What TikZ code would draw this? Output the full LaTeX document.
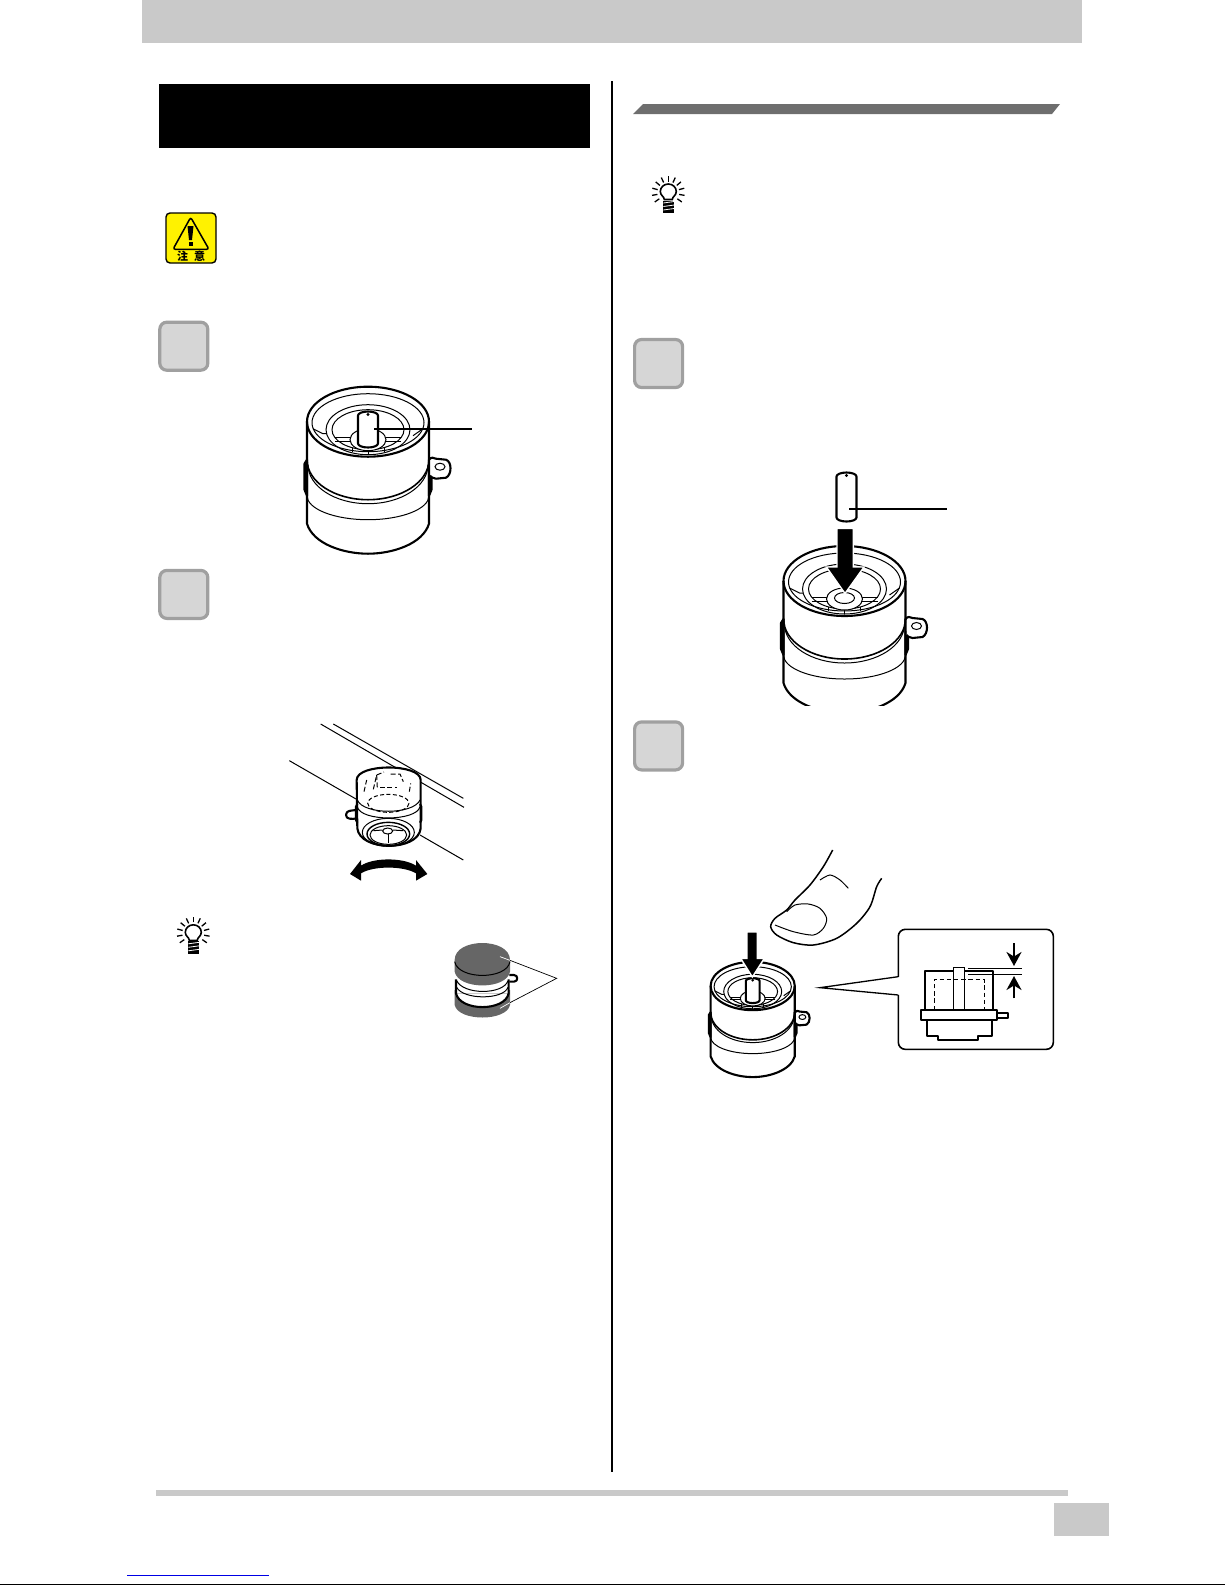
\documentclass[tikz,border=0pt]{standalone}
\usepackage{fontspec}
\newfontfamily\cjk{Noto Sans CJK JP}
\usetikzlibrary{arrows.meta}
\definecolor{bargray}{HTML}{C9C9C9}
\definecolor{stepgray}{HTML}{A0A0A0}
\definecolor{steplight}{HTML}{D6D6D6}
\definecolor{headgray}{HTML}{6E6E6E}
\definecolor{darkpart}{HTML}{666666}
\definecolor{warnyellow}{HTML}{FFF200}
\tikzset{
  stepbox/.style={draw=stepgray,fill=steplight,line width=1.6pt,minimum size=24pt,inner sep=0pt,rounded corners=3.5pt},
  heavy/.style={line width=1.05pt,line join=round},
  fine/.style={line width=.5pt},
  leader/.style={line width=.9pt},
  hair/.style={line width=.35pt},
}
\newcommand{\drumpart}[3]{
  \begin{scope}[shift={(#1,#2)},scale=#3]
    \fill[white] (-61,0) -- (-61,102) arc[start angle=180,end angle=0,x radius=61,y radius=30] -- (61,0) arc[start angle=0,end angle=-180,x radius=61,y radius=35] -- cycle;
    \draw[heavy,fill=white] (-61,38) -- (-63.5,42) -- (-63.5,68) -- (-61,74) -- cycle;
    \draw[heavy,fill=white] (61,38) -- (63.5,42) -- (63.5,68) -- (61,74) -- cycle;
    \draw[heavy,fill=white] (61,38) .. controls (63,35) and (66,36) .. (68,37) -- (78,38) .. controls (84,40) and (84,53) .. (78,56) -- (68,57) .. controls (65,57) and (63,55) .. (62,54);
    \draw[fine] (72,45) ellipse (5 and 3.5);
    \draw[heavy] (0,0) ellipse (61 and 35);
    \draw[heavy] (-61,0) -- (-61,102) .. controls (-55,122) and (-25,132) .. (0,132) .. controls (25,132) and (55,122) .. (61,102) -- (61,0);
    \draw[line width=.8pt] (-61,38) arc[start angle=180,end angle=0,x radius=61,y radius=40];
    \draw[fine] (-60,43) arc[start angle=180,end angle=0,x radius=60,y radius=39];
    \draw[fine] (-61,74) arc[start angle=180,end angle=0,x radius=61,y radius=24];
    \draw[fine] (0,1) ellipse (56 and 29);
    \draw[fine] (0,8) ellipse (42 and 25);
    \draw[fine] (0,8) ellipse (36 and 20);
    \draw[fine] (-55,7) -- (-45,12) -- (-41,12);
    \draw[fine] (55,7) -- (45,14);
    \draw[fine] (-33,16) -- (-12,16);
    \draw[fine] (-33,20) -- (-12,20);
    \draw[fine] (33,16) -- (12,16);
    \draw[fine] (33,20) -- (12,20);
    \draw[fine] (-16,26) -- (-16,30);
    \draw[fine] (16,26) -- (16,30);
    \draw[fine] (0,29) -- (0,33);
    \draw[fine,fill=white] (0,18) ellipse (18 and 11);
    \draw[fine,fill=white] (0,17) ellipse (10 and 5.5);
  \end{scope}
}
\newcommand{\pinpart}[4]{
  \begin{scope}[shift={(#1,#2)},scale=#3]
    \draw[heavy,fill=white] (-10,0) -- (-10,#4) arc[start angle=180,end angle=0,x radius=10,y radius=4] -- (10,0) arc[start angle=0,end angle=-180,x radius=10,y radius=4] -- cycle;
    \draw[fine] (0,-1) circle (1);
  \end{scope}
}
\newcommand{\bulbicon}[2]{
  \begin{scope}[shift={(#1,#2)}]
    \foreach \a in {-215,-190,...,35} {
      \draw[line width=.65pt] (\a:11) -- (\a:16.5);
    }
    \draw[line width=.8pt] (-4,7) .. controls (-4,4) and (-8,3) .. (-8,-1) arc[start angle=180,end angle=360,x radius=8,y radius=7.5] .. controls (8,3) and (4,4) .. (4,7) -- cycle;
    \fill[black] (-5,8) rectangle (6,20.5);
    \foreach \b in {10.5,14,17.5} {
      \draw[white,line width=.4pt] (-5,\b) -- (6,\b-1.5);
    }
  \end{scope}
}
\begin{document}
\begin{tikzpicture}[x=.5pt,y=-.5pt]
  \useasboundingbox (0,0) rectangle (1225,1585);
  \fill[bargray] (142,0) rectangle (1082,43);
  \fill[black] (159,84) rectangle (590,148);
  \fill[black] (611,81) rectangle (613,1472);
  \fill[bargray] (156,1490) rectangle (1068,1496);
  \fill[bargray] (1054,1503) rectangle (1109,1536);
  \fill[blue!90!black] (127,1574.5) rectangle (269,1575.5);
  \fill[black] (0,1583.6) rectangle (1225,1585);
  \fill[headgray] (643,104) -- (1060,104) -- (1052,114) -- (633,114) -- cycle;

  \node (stepa) [stepbox] at (183.8,346.2) {};
  \node (stepb) [stepbox] at (183.8,594.4) {};
  \node (stepc) [stepbox] at (658.6,363.5) {};
  \node (stepd) [stepbox] at (658.6,745.9) {};

  \draw[line width=.7pt,fill=warnyellow,rounded corners=2pt] (166,213) rectangle (216,263);
  \draw[line width=.75pt,rounded corners=1.2pt] (190.7,217.3) -- (173,249.3) -- (209,249.3) -- cycle;
  \fill[black] (187.5,226) -- (193.5,226) -- (192,240) -- (189,240) -- cycle;
  \fill[black] (188.5,241.5) rectangle (192.5,245.5);
  \node (warnleft) [inner sep=0pt,font=\cjk\bfseries\fontsize{5.5}{6}\selectfont] at (182.5,256) {注};
  \node (warnright) [inner sep=0pt,font=\cjk\bfseries\fontsize{5.5}{6}\selectfont] at (199.5,256) {意};

  \drumpart{368}{421.7}{1}
  \pinpart{368}{415.5}{1}{28}
  \coordinate (pinfirst) at (374,429.3);
  \coordinate (labelfirst) at (472,429.3);
  \draw[leader] (pinfirst) -- (labelfirst);

  \drumpart{844.5}{581}{1}
  \fill[white] (780,706) rectangle (910,716);
  \pinpart{846.5}{476.5}{1}{41}
  \coordinate (pinloose) at (849,509);
  \coordinate (labelloose) at (947,509);
  \draw[leader] (pinloose) -- (labelloose);
  \draw[white,line width=.7pt,fill=black] (837,528.5) -- (853.4,528.5) -- (853.4,567) -- (864,567) -- (845,593.5) -- (826.4,567) -- (837,567) -- cycle;

  \begin{scope}[shift={(160,700)},scale=1/3]
    \draw[fine] (388,182) -- (588,297);
    \draw[fine] (482,72) -- (912,322);
    \draw[fine] (780,405) -- (910,480);
    \draw[heavy,fill=white] (590,330) .. controls (575,332) and (558,330) .. (558,345) .. controls (558,358) and (575,358) .. (592,355);
    \draw[heavy,fill=white] (590,240) .. controls (590,190) and (782,190) .. (782,240) -- (782,385) .. controls (775,455) and (600,455) .. (592,385) -- cycle;
    \draw[fine] (520,72) -- (910,295);
    \draw[fine] (592,300) .. controls (610,345) and (760,345) .. (780,300);
    \draw[fine] (592,320) .. controls (600,365) and (770,365) .. (780,320);
    \draw[heavy] (592,312) -- (588,320) -- (588,360) -- (592,368);
    \draw[heavy] (780,312) -- (784,320) -- (784,360) -- (780,368);
    \draw[fine] (685,397) ellipse (78 and 42);
    \draw[line width=.7pt] (685,402) ellipse (64 and 35);
    \draw[fine] (685,405) ellipse (55 and 28);
    \draw[fine] (683,393) ellipse (15 and 9);
    \draw[fine] (640,392) -- (668,390);
    \draw[fine] (730,392) -- (698,390);
    \draw[line width=.7pt] (685,402) -- (685,428);
    \draw[fine,dashed,dash pattern=on 2pt off 1.2pt] (685,310) ellipse (62 and 27);
    \draw[fine,dashed,dash pattern=on 2.5pt off 1.2pt] (640,268) -- (650,225) -- (672,216);
    \draw[fine,dashed,dash pattern=on 2.5pt off 1.2pt] (692,222) -- (720,222) -- (730,245);
    \draw[fine,dashed,dash pattern=on 2.5pt off 1.2pt] (612,275) -- (620,240);
    \draw[fine,dashed,dash pattern=on 2.5pt off 1.2pt] (660,262) -- (712,262);
    \draw[fine,dashed,dash pattern=on 2.5pt off 1.2pt] (748,275) -- (752,250);
    \draw[fine,dashed,dash pattern=on 2.5pt off 1.2pt] (650,225) -- (652,265);
    \fill[black] (570,522) -- (603,480) -- (603,497) .. controls (640,472) and (730,472) .. (768,497) -- (768,480) -- (802,522) -- (768,542) -- (768,520) .. controls (730,497) and (640,497) .. (603,520) -- (603,542) -- cycle;

    \draw[heavy,fill=white] (1048,825) -- (1062,825) .. controls (1075,825) and (1075,845) .. (1062,845) -- (1048,845);
    \fill[darkpart] (884,870) -- (1050,870) -- (1050,915) .. controls (1040,965) and (895,965) .. (884,915) -- cycle;
    \fill[white] (888,830) rectangle (1046,880);
    \fill[white] (888,880) .. controls (900,935) and (1035,935) .. (1046,880) -- cycle;
    \draw[heavy] (888,838) -- (888,880) .. controls (900,935) and (1035,935) .. (1046,880) -- (1046,838);
    \draw[fine] (890,862) .. controls (910,900) and (1030,900) .. (1044,862);
    \draw[fine] (890,842) .. controls (910,885) and (1030,885) .. (1044,842);
    \fill[darkpart] (884,780) .. controls (884,712) and (1050,712) .. (1050,780) -- (1050,815) .. controls (1040,870) and (895,870) .. (884,815) -- cycle;
    \draw[black,fine] (884,785) .. controls (895,840) and (1040,840) .. (1050,785);
    \coordinate (sharedtip) at (1190,835);
    \coordinate (darktop) at (1020,770);
    \coordinate (darkbottom) at (1020,925);
    \coordinate (exittop) at (1050,781);
    \coordinate (exitbottom) at (1050,908);
    \draw[white,hair] (darktop) -- (exittop);
    \draw[white,hair] (darkbottom) -- (exitbottom);
    \draw[hair] (exittop) -- (sharedtip) -- (exitbottom);
  \end{scope}

  \bulbicon{193.3}{933.3}
  \bulbicon{668.3}{192.5}

  \drumpart{752.7}{986}{.69}
  \pinpart{752.7}{981}{.69}{28}
  \begin{scope}[shift={(680,830)},scale=1/3]
    \draw[white,line width=.7pt,fill=black] (201,306) -- (232,306) -- (232,385) -- (253,385) -- (217,441) -- (182,385) -- (201,385) -- cycle;
    \draw[line width=.75pt] plot[smooth] coordinates {(458,60) (430,110) (390,165) (345,210) (320,240) (285,265) (272,290) (290,315) (340,338) (400,345) (470,325) (530,280) (570,230) (590,170) (605,145)};
    \draw[fine] plot[smooth] coordinates {(285,285) (340,305) (400,315) (430,295) (440,265) (420,235) (385,222) (345,225) (320,245)};
    \draw[fine] plot[smooth] coordinates {(420,150) (450,135) (480,150) (505,175)};
    \coordinate (calloutupper) at (655,440);
    \coordinate (calloutlower) at (655,495);
    \coordinate (callouttip) at (420,473);
    \draw[line width=.8pt,fill=white,rounded corners=3.5pt] (655,298) rectangle (1120,658);
    \fill[white] (650,441) rectangle (660,494);
    \draw[line width=.65pt] (calloutupper) -- (callouttip) -- (calloutlower);
    \draw[heavy] (820,422) -- (735,422) -- (735,540) -- (940,540) -- (940,422) -- (853,422);
    \draw[heavy,fill=white] (722,540) rectangle (950,570);
    \draw[heavy] (740,570) -- (740,618) -- (775,618) -- (775,630) -- (895,630) -- (895,618) -- (935,618) -- (935,570);
    \draw[heavy] (950,548) -- (985,548) -- (985,565) -- (950,565);
    \draw[line width=.55pt] (820,540) -- (820,412) -- (853,412) -- (853,540);
    \draw[line width=.5pt,dashed,dash pattern=on 2.2pt off 1.4pt] (763,540) -- (763,448) -- (912,448) -- (912,540);
    \draw[fine] (865,414) -- (1027,414);
    \draw[fine] (865,432) -- (1027,432);
    \draw[line width=.7pt] (865,422) -- (940,422);
    \draw[line width=1.2pt,-{Stealth[length=7pt,width=7.5pt]}] (1002,340) -- (1002,408);
    \draw[line width=1.2pt,-{Stealth[length=7pt,width=7.5pt]}] (1002,505) -- (1002,438);
  \end{scope}
\end{tikzpicture}
\end{document}
